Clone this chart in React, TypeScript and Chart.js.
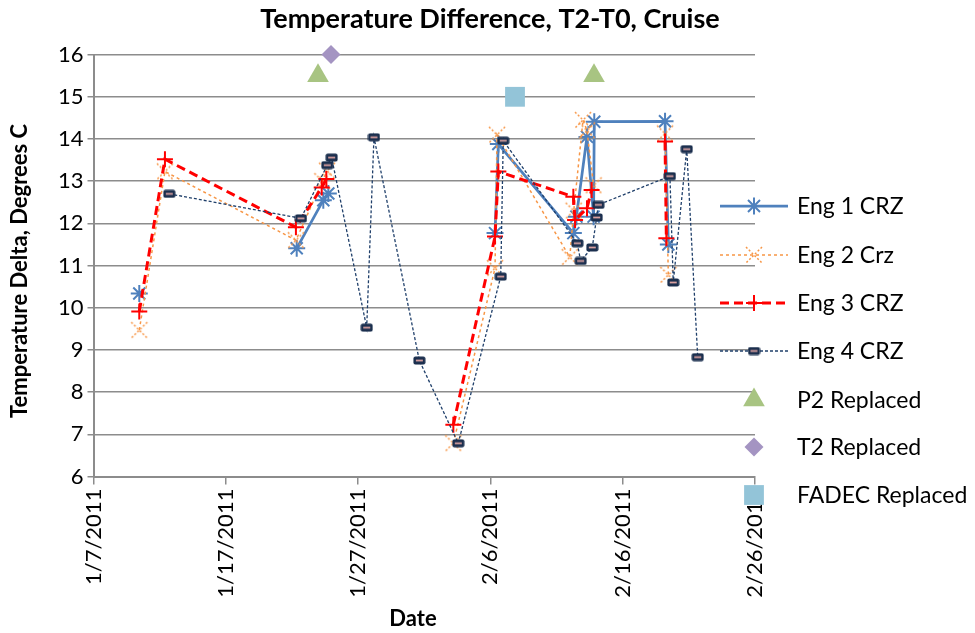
import React, { useEffect, useRef } from 'react';
import { Chart, registerables } from 'chart.js';

Chart.register(...registerables);

// x values are days after 1/7/2011 (fractions carry the time of day)
const dateTicks = ['1/7/2011', '1/17/2011', '1/27/2011', '2/6/2011', '2/16/2011', '2/26/2011'];

// a null value breaks the line, as an empty cell does
const eng1Days = [3.46, 3.5, 15.36, 17.37, 17.75, 17.8, 30.35, 30.6, 36.27, 36.5, 37.3, 37.8, 37.85, 43.2, 43.45];
const eng1Vals = [10.34, null, 11.41, 12.55, 12.71, null, 11.77, 13.88, 11.77, 12.16, 14.05, 12.16, 14.41, 14.42, 11.5];

const eng2Days = [3.46, 5.4, 15.3, 17.3, 17.65, 17.7, 27.2, 30.35, 30.5, 36.0, 36.3, 37.0, 37.3, 37.8, 37.9, 43.2, 43.45];
const eng2Vals = [9.47, 13.23, 11.6, 13.0, 13.25, null, 6.79, 10.94, 14.1, 11.2, 12.3, 14.45, 14.2, 12.9, null, 14.13, 10.78];

const eng3Days = [3.46, 5.4, 15.3, 17.25, 17.6, 17.7, 27.2, 30.35, 30.6, 36.27, 36.4, 37.3, 37.65, 37.7, 43.2, 43.3];
const eng3Vals = [9.91, 13.52, 11.91, 12.85, 13.05, null, 7.23, 11.69, 13.23, 12.63, 12.08, 12.36, 12.79, null, 13.94, 11.65];

const eng4Days = [5.73, 15.68, 17.67, 18.0, 20.65, 21.2, 24.63, 27.57, 30.78, 30.97, 36.57, 36.82, 37.7, 38.03, 38.16, 43.57, 43.82, 44.84, 45.67];
const eng4Vals = [12.7, 12.12, 13.38, 13.56, 9.53, 14.04, 8.75, 6.79, 10.74, 13.96, 11.53, 11.11, 11.43, 12.14, 12.44, 13.12, 10.6, 13.76, 8.83];

const p2Days = [16.97, 37.83];
const p2Vals = [15.5, 15.5];
const t2Days = [17.95];
const t2Vals = [16];
const fadecDays = [31.86];
const fadecVals = [15];

const FONT = 'Lato, "Open Sans", sans-serif';
const GRID = '#8c8c8c';

const toPoints = (xs: number[], ys: (number | null)[]) => xs.map((x, i) => ({ x, y: ys[i] }));

function eng4Marker(): HTMLCanvasElement {
  const c = document.createElement('canvas');
  c.width = 13;
  c.height = 9;
  const g = c.getContext('2d')!;
  g.fillStyle = '#1b2f4e';
  g.beginPath();
  g.roundRect(0.5, 0.5, 12, 8, 2);
  g.fill();
  g.fillStyle = '#d9a0a0';
  g.fillRect(3, 3.6, 7, 1.8);
  return c;
}

function eng2Marker(): HTMLCanvasElement {
  const c = document.createElement('canvas');
  c.width = 20;
  c.height = 20;
  const g = c.getContext('2d')!;
  g.strokeStyle = '#F79646';
  g.lineWidth = 1.5;
  g.setLineDash([2, 2]);
  g.beginPath();
  g.moveTo(2, 2);
  g.lineTo(18, 18);
  g.moveTo(18, 2);
  g.lineTo(2, 18);
  g.stroke();
  return c;
}

type LegendItem = {
  label: string;
  color: string;
  line: boolean;
  width: number;
  dash: number[];
  marker: string | HTMLCanvasElement;
  radius: number;
};

function drawMarker(ctx: CanvasRenderingContext2D, m: LegendItem, x: number, y: number) {
  ctx.save();
  ctx.setLineDash([]);
  if (typeof m.marker !== 'string') {
    const img = m.marker;
    ctx.drawImage(img, x - img.width / 2, y - img.height / 2);
    ctx.restore();
    return;
  }
  const r = m.radius;
  ctx.strokeStyle = m.color;
  ctx.fillStyle = m.color;
  ctx.lineWidth = 2;
  ctx.beginPath();
  switch (m.marker) {
    case 'star': {
      ctx.moveTo(x, y - r); ctx.lineTo(x, y + r);
      ctx.moveTo(x - r, y); ctx.lineTo(x + r, y);
      const d = r * Math.SQRT1_2;
      ctx.moveTo(x - d, y - d); ctx.lineTo(x + d, y + d);
      ctx.moveTo(x - d, y + d); ctx.lineTo(x + d, y - d);
      ctx.stroke();
      break;
    }
    case 'cross':
      ctx.moveTo(x, y - r); ctx.lineTo(x, y + r);
      ctx.moveTo(x - r, y); ctx.lineTo(x + r, y);
      ctx.stroke();
      break;
    case 'triangle':
      ctx.moveTo(x, y - r);
      ctx.lineTo(x + r * Math.sin((2 * Math.PI) / 3), y - r * Math.cos((2 * Math.PI) / 3));
      ctx.lineTo(x + r * Math.sin((4 * Math.PI) / 3), y - r * Math.cos((4 * Math.PI) / 3));
      ctx.closePath();
      ctx.fill();
      break;
    case 'rectRot':
      ctx.moveTo(x - r, y); ctx.lineTo(x, y - r); ctx.lineTo(x + r, y); ctx.lineTo(x, y + r);
      ctx.closePath();
      ctx.fill();
      break;
    case 'rect': {
      const s = r * Math.SQRT1_2;
      ctx.rect(x - s, y - s, 2 * s, 2 * s);
      ctx.fill();
      break;
    }
  }
  ctx.restore();
}

export default function App() {
  const ref = useRef<HTMLCanvasElement | null>(null);

  useEffect(() => {
    const canvas = ref.current;
    if (!canvas) return;
    const m4 = eng4Marker();
    const m2 = eng2Marker();

    const legendItems: LegendItem[] = [
      { label: 'Eng 1 CRZ', color: '#4F81BD', line: true, width: 2.75, dash: [], marker: 'star', radius: 8.5 },
      { label: 'Eng 2 Crz', color: '#F79646', line: true, width: 1.5, dash: [3, 3], marker: m2, radius: 10 },
      { label: 'Eng 3 CRZ', color: '#FF0000', line: true, width: 3, dash: [9, 5], marker: 'cross', radius: 8 },
      { label: 'Eng 4 CRZ', color: '#1F3F6A', line: true, width: 1.3, dash: [3, 2], marker: m4, radius: 6 },
      { label: 'P2 Replaced', color: '#A8C482', line: false, width: 0, dash: [], marker: 'triangle', radius: 12.5 },
      { label: 'T2 Replaced', color: '#A494C2', line: false, width: 0, dash: [], marker: 'rectRot', radius: 9.5 },
      { label: 'FADEC Replaced', color: '#93C4D8', line: false, width: 0, dash: [], marker: 'rect', radius: 14 },
    ];

    const decor = {
      id: 'decor',
      afterDraw(chart: Chart) {
        const ctx = chart.ctx;
        ctx.save();
        ctx.fillStyle = '#000';
        ctx.textAlign = 'center';
        ctx.textBaseline = 'middle';
        ctx.font = `bold 27px ${FONT}`;
        ctx.fillText('Temperature Difference, T2-T0, Cruise', 490, 19);
        ctx.font = `bold 22px ${FONT}`;
        ctx.fillText('Date', 413, 619);
        ctx.save();
        ctx.translate(20, 271);
        ctx.rotate(-Math.PI / 2);
        ctx.fillText('Temperature Delta, Degrees C', 0, 0);
        ctx.restore();

        // legend to the right, partly over the plot edge
        const rowY = [206, 255, 303, 351, 400, 447, 495];
        ctx.font = `23px ${FONT}`;
        ctx.textAlign = 'left';
        legendItems.forEach((it, i) => {
          const y = rowY[i];
          if (it.line) {
            ctx.save();
            ctx.strokeStyle = it.color;
            ctx.lineWidth = it.width;
            ctx.setLineDash(it.dash);
            ctx.beginPath();
            ctx.moveTo(720, y);
            ctx.lineTo(788, y);
            ctx.stroke();
            ctx.restore();
          }
          drawMarker(ctx, it, 754, y);
          ctx.fillStyle = '#000';
          ctx.fillText(it.label, 797, y + 1);
        });
        ctx.restore();
      },
    };

    const chart = new Chart(canvas, {
      type: 'scatter',
      data: {
        datasets: [
          {
            label: 'Eng 1 CRZ',
            data: toPoints(eng1Days, eng1Vals),
            showLine: true,
            spanGaps: false,
            borderColor: '#4F81BD',
            backgroundColor: '#4F81BD',
            borderWidth: 2.75,
            pointStyle: 'star',
            pointRadius: 8.5,
            pointBorderWidth: 2,
            order: 6,
          },
          {
            label: 'Eng 2 Crz',
            data: toPoints(eng2Days, eng2Vals),
            showLine: true,
            spanGaps: false,
            borderColor: '#F79646',
            backgroundColor: '#F79646',
            borderWidth: 1.5,
            borderDash: [3, 3],
            pointStyle: m2,
            order: 5,
          },
          {
            label: 'Eng 3 CRZ',
            data: toPoints(eng3Days, eng3Vals),
            showLine: true,
            spanGaps: false,
            borderColor: '#FF0000',
            backgroundColor: '#FF0000',
            borderWidth: 3,
            borderDash: [9, 5],
            pointStyle: 'cross',
            pointRadius: 8,
            pointBorderWidth: 2,
            order: 4,
          },
          {
            label: 'Eng 4 CRZ',
            data: toPoints(eng4Days, eng4Vals),
            showLine: true,
            borderColor: '#1F3F6A',
            backgroundColor: '#1F3F6A',
            borderWidth: 1.3,
            borderDash: [3, 2],
            pointStyle: m4,
            order: 3,
          },
          {
            label: 'P2 Replaced',
            data: toPoints(p2Days, p2Vals),
            showLine: false,
            clip: false,
            backgroundColor: '#A8C482',
            borderColor: '#A8C482',
            pointStyle: 'triangle',
            pointRadius: 12.5,
            pointBorderWidth: 0,
            order: 2,
          },
          {
            label: 'T2 Replaced',
            data: toPoints(t2Days, t2Vals),
            showLine: false,
            clip: false,
            backgroundColor: '#A494C2',
            borderColor: '#A494C2',
            pointStyle: 'rectRot',
            pointRadius: 9.5,
            pointBorderWidth: 0,
            order: 1,
          },
          {
            label: 'FADEC Replaced',
            data: toPoints(fadecDays, fadecVals),
            showLine: false,
            clip: false,
            backgroundColor: '#93C4D8',
            borderColor: '#93C4D8',
            pointStyle: 'rect',
            pointRadius: 14,
            pointBorderWidth: 0,
            order: 0,
          },
        ],
      },
      options: {
        animation: false,
        responsive: false,
        events: [],
        layout: { padding: { top: 54.6, right: 220, left: 0, bottom: 0 } },
        plugins: {
          legend: { display: false },
          title: { display: false },
          tooltip: { enabled: false },
        },
        scales: {
          x: {
            type: 'linear',
            min: 0,
            max: 50,
            afterFit: (s: any) => {
              s.height = 633 - 476.6;
            },
            ticks: {
              stepSize: 10,
              minRotation: 90,
              maxRotation: 90,
              padding: 4,
              color: '#000',
              font: { family: FONT, size: 22 },
              callback: (_v: any, i: number) => dateTicks[i],
            },
            grid: { drawOnChartArea: false, drawTicks: true, tickLength: 8, color: GRID, lineWidth: 1.5 },
            border: { display: true, color: GRID, width: 2 },
          },
          y: {
            min: 6,
            max: 16,
            afterFit: (s: any) => {
              s.width = 93.5;
            },
            ticks: {
              stepSize: 1,
              padding: 4,
              color: '#000',
              font: { family: FONT, size: 22 },
            },
            grid: { color: GRID, lineWidth: 1.5, tickLength: 6 },
            border: { display: true, color: GRID, width: 2 },
          },
        },
      },
      plugins: [decor],
    });

    return () => chart.destroy();
  }, []);

  return (
    <div style={{ position: 'fixed', left: 0, top: 0, width: 975, height: 633, background: '#fff' }}>
      <canvas ref={ref} width={975} height={633} />
    </div>
  );
}
